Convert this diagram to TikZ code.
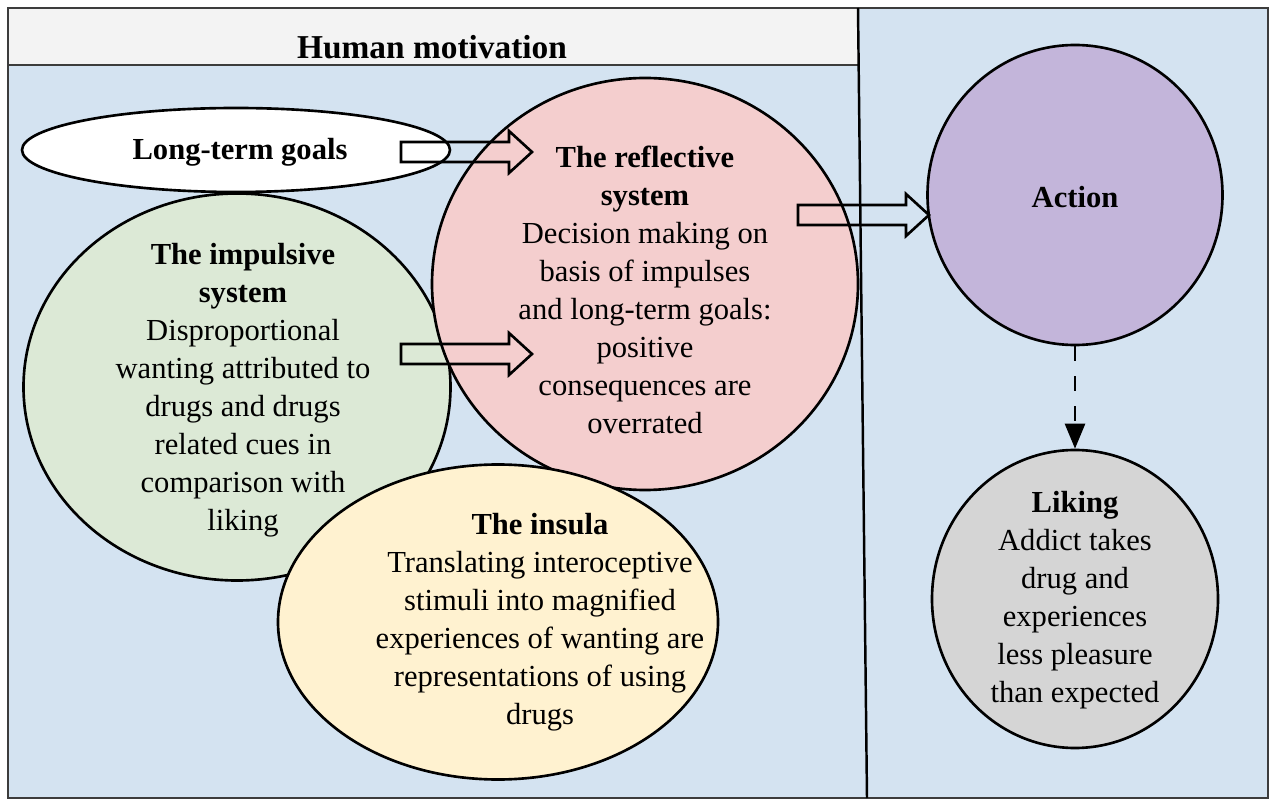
\documentclass[tikz,border=0pt]{standalone}
\usepackage{fontspec}
\setmainfont{Liberation Serif}
\usepackage{tikz}
\usetikzlibrary{shapes.geometric}
\usetikzlibrary{arrows.meta}

\definecolor{panelblue}{RGB}{212,227,241}
\definecolor{headgray}{RGB}{243,243,243}
\definecolor{reflpink}{RGB}{244,206,206}
\definecolor{implgreen}{RGB}{220,233,214}
\definecolor{insulayellow}{RGB}{255,242,208}
\definecolor{actionpurple}{RGB}{195,181,218}
\definecolor{likinggray}{RGB}{213,213,213}
\definecolor{framegray}{RGB}{60,60,60}

\begin{document}
\begin{tikzpicture}[
        x=0.2mm, y=-0.2mm,
        bubble/.style={ellipse,draw,line width=1.5pt,inner sep=0pt},
        bubbletext/.style={align=center,font=\fontsize{17.4}{21.6}\selectfont},
        fatarrow/.pic={\draw[line width=1.5pt] (0,-10) -- (108,-10) -- (108,-21) -- (131,0) -- (108,21) -- (108,10) -- (0,10) -- cycle;},
        ]
        \useasboundingbox (0,0) rectangle (1270,801);

        % panels
        \fill[panelblue] (8,8) rectangle (1268,798);
        \fill[headgray] (8,8) rectangle (858,65);
        \draw[line width=1.2pt,framegray] (8,65) -- (858,65);
        \draw[line width=1.2pt,framegray] (8,8) rectangle (1268,798);
        \draw[line width=1.4pt] (858,8) -- (867,798);
        \node[font=\bfseries\fontsize{19}{23}\selectfont](title) at (432,47){Human motivation};

        % left side
        \node[bubble,fill=white,minimum width=85.6mm,minimum height=16.8mm](goals) at (236,150){};
        \node[bubbletext,font=\bfseries\fontsize{17.4}{21.6}\selectfont](goals_txt) at (240,152){Long-term goals};

        \node[bubble,fill=implgreen,minimum width=85.4mm,minimum height=77.4mm](impulsive) at (237,387){};
        \node[bubbletext](impulsive_txt) at (243,390){\textbf{The impulsive}\\\textbf{system}\\Disproportional\\wanting attributed to\\drugs and drugs\\related cues in\\comparison with\\liking};

        \node[bubble,fill=reflpink,minimum width=85.2mm,minimum height=82.4mm](reflective) at (645,284){};
        \node[bubbletext](reflective_txt) at (645,290){\textbf{The reflective}\\\textbf{system}\\Decision making on\\basis of impulses\\and long-term goals:\\positive\\consequences are\\overrated};

        \node[bubble,fill=insulayellow,minimum width=88mm,minimum height=63mm](insula) at (498,622){};
        \node[bubbletext](insula_txt) at (540,622){\textbf{The insula}\\Translating interoceptive\\stimuli into magnified\\experiences of wanting are\\representations of using\\drugs};

        % right side
        \node[bubble,fill=actionpurple,minimum width=59mm,minimum height=60mm](action) at (1075,195){};
        \node[bubbletext,font=\bfseries\fontsize{17.4}{21.6}\selectfont](action_txt) at (1075,197){Action};

        \node[bubble,fill=likinggray,minimum width=57.2mm,minimum height=59.6mm](liking) at (1075,599){};
        \node[bubbletext](liking_txt) at (1075,600){\textbf{Liking}\\Addict takes\\drug and\\experiences\\less pleasure\\than expected};

        % arrows
        \pic (goals_arrow) at (401,152) {fatarrow};
        \pic (impulsive_arrow) at (401,354) {fatarrow};
        \pic (reflective_arrow) at (798,215) {fatarrow};
        \draw[line width=1.5pt,dash pattern=on 8.5pt off 8.5pt,-{Triangle[length=5mm,width=4mm]}] (action) -- (liking);

\end{tikzpicture}
\end{document}
